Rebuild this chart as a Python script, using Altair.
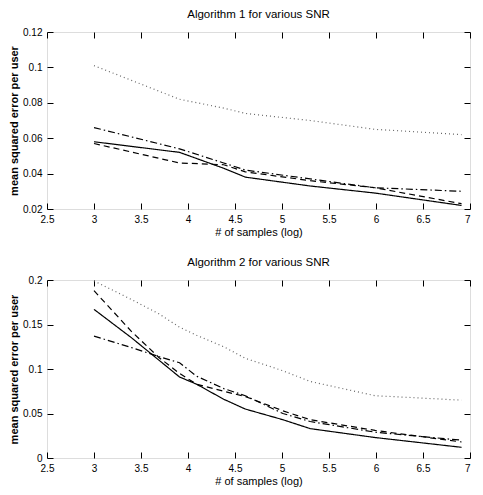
import altair as alt
import pandas as pd

SERIES = ["solid", "dashed", "dashdot", "dotted"]
X_TICKS = [2.5, 3, 3.5, 4, 4.5, 5, 5.5, 6, 6.5, 7]

# Algorithm 1
X1 = [3.0, 3.91, 4.38, 4.61, 5.3, 5.99, 6.91]
A1_SOLID = [0.058, 0.052, 0.043, 0.038, 0.033, 0.029, 0.022]
A1_DASHED = [0.057, 0.046, 0.045, 0.041, 0.036, 0.032, 0.023]
A1_DASHDOT = [0.066, 0.054, 0.046, 0.042, 0.037, 0.032, 0.030]
A1_DOTTED = [0.101, 0.082, 0.077, 0.074, 0.070, 0.065, 0.062]
Y1_TICKS = [0.02, 0.04, 0.06, 0.08, 0.1, 0.12]

# Algorithm 2
X2 = [3.0, 3.4, 3.69, 3.91, 4.09, 4.38, 4.61, 5.01, 5.3, 5.99, 6.91]
A2_SOLID = [0.167, 0.135, 0.110, 0.091, 0.083, 0.066, 0.055, 0.043, 0.033, 0.023, 0.012]
A2_DASHED = [0.188, 0.142, 0.113, 0.095, 0.083, 0.075, 0.069, 0.053, 0.043, 0.031, 0.018]
A2_DASHDOT = [0.137, 0.124, 0.114, 0.107, 0.092, 0.078, 0.070, 0.050, 0.041, 0.029, 0.020]
A2_DOTTED = [0.199, 0.178, 0.162, 0.147, 0.138, 0.125, 0.112, 0.098, 0.086, 0.070, 0.065]
Y2_TICKS = [0, 0.05, 0.1, 0.15, 0.2]

X_TITLE = "# of samples (log)"
Y_TITLE = "mean squared error per user"
FONT = "Liberation Sans"
DASHES = [[1, 0], [6, 4], [7, 3, 1.5, 3], [1, 3]]
COLORS = ["#000000", "#000000", "#000000", "#666666"]
W = 423
TICK = 6


def long_df(xs, cols):
    rows = []
    for name, vals in zip(SERIES, cols):
        for i, (x, y) in enumerate(zip(xs, vals)):
            rows.append({"x": x, "y": y, "s": name, "o": i})
    return pd.DataFrame(rows)


def panel(title, xs, cols, ydom, yticks, h):
    df = long_df(xs, cols)
    xscale = alt.Scale(domain=[2.5, 7], nice=False, zero=False)
    yscale = alt.Scale(domain=ydom, nice=False, zero=False)
    # grid lines dashed so that only a short piece at each end of the frame shows: inward ticks
    xaxis = alt.Axis(values=X_TICKS, format=".1~f", title=X_TITLE,
                     domain=False, ticks=False,
                     grid=True, gridDash=[TICK, h - 2 * TICK], gridColor="black",
                     gridOpacity=1, gridWidth=1,
                     labelPadding=5, titlePadding=2, labelFlush=False,
                     labelAlign={"condition": {"test": "datum.value >= 7", "value": "right"},
                                 "value": "center"},
                     titleFontWeight="normal")
    yaxis = alt.Axis(values=yticks, format=".2~f", title=Y_TITLE,
                     domain=False, ticks=False,
                     grid=True, gridDash=[TICK, W - 2 * TICK], gridColor="black",
                     gridOpacity=1, gridWidth=1,
                     labelPadding=5, titlePadding=3, labelFlush=False,
                     titleFontWeight="bold")
    lines = alt.Chart(df).mark_line(strokeWidth=1.2, clip=True).encode(
        x=alt.X("x:Q", scale=xscale, axis=xaxis),
        y=alt.Y("y:Q", scale=yscale, axis=yaxis),
        strokeDash=alt.StrokeDash("s:N", scale=alt.Scale(domain=SERIES, range=DASHES), legend=None),
        color=alt.Color("s:N", scale=alt.Scale(domain=SERIES, range=COLORS), legend=None),
        order="o:Q",
    )
    return lines.properties(
        width=W, height=h,
        title=alt.TitleParams(title, fontSize=11.5, font=FONT, fontWeight="normal", offset=7),
    )


top = panel("Algorithm 1 for various SNR", X1, [A1_SOLID, A1_DASHED, A1_DASHDOT, A1_DOTTED],
            [0.02, 0.12], Y1_TICKS, 177)
bottom = panel("Algorithm 2 for various SNR", X2, [A2_SOLID, A2_DASHED, A2_DASHDOT, A2_DOTTED],
               [0, 0.2], Y2_TICKS, 178)

chart = alt.vconcat(top, bottom, spacing=18).properties(padding=0).configure_view(
    stroke="black", strokeWidth=1
).configure_axis(
    labelFont=FONT, labelFontSize=12, labelColor="black",
    titleFont=FONT, titleFontSize=12, titleColor="black",
).configure_axisY(
    titleFontSize=13
).configure(background="white")

chart.save("out.html", embed_options={"renderer": "svg", "actions": False})
